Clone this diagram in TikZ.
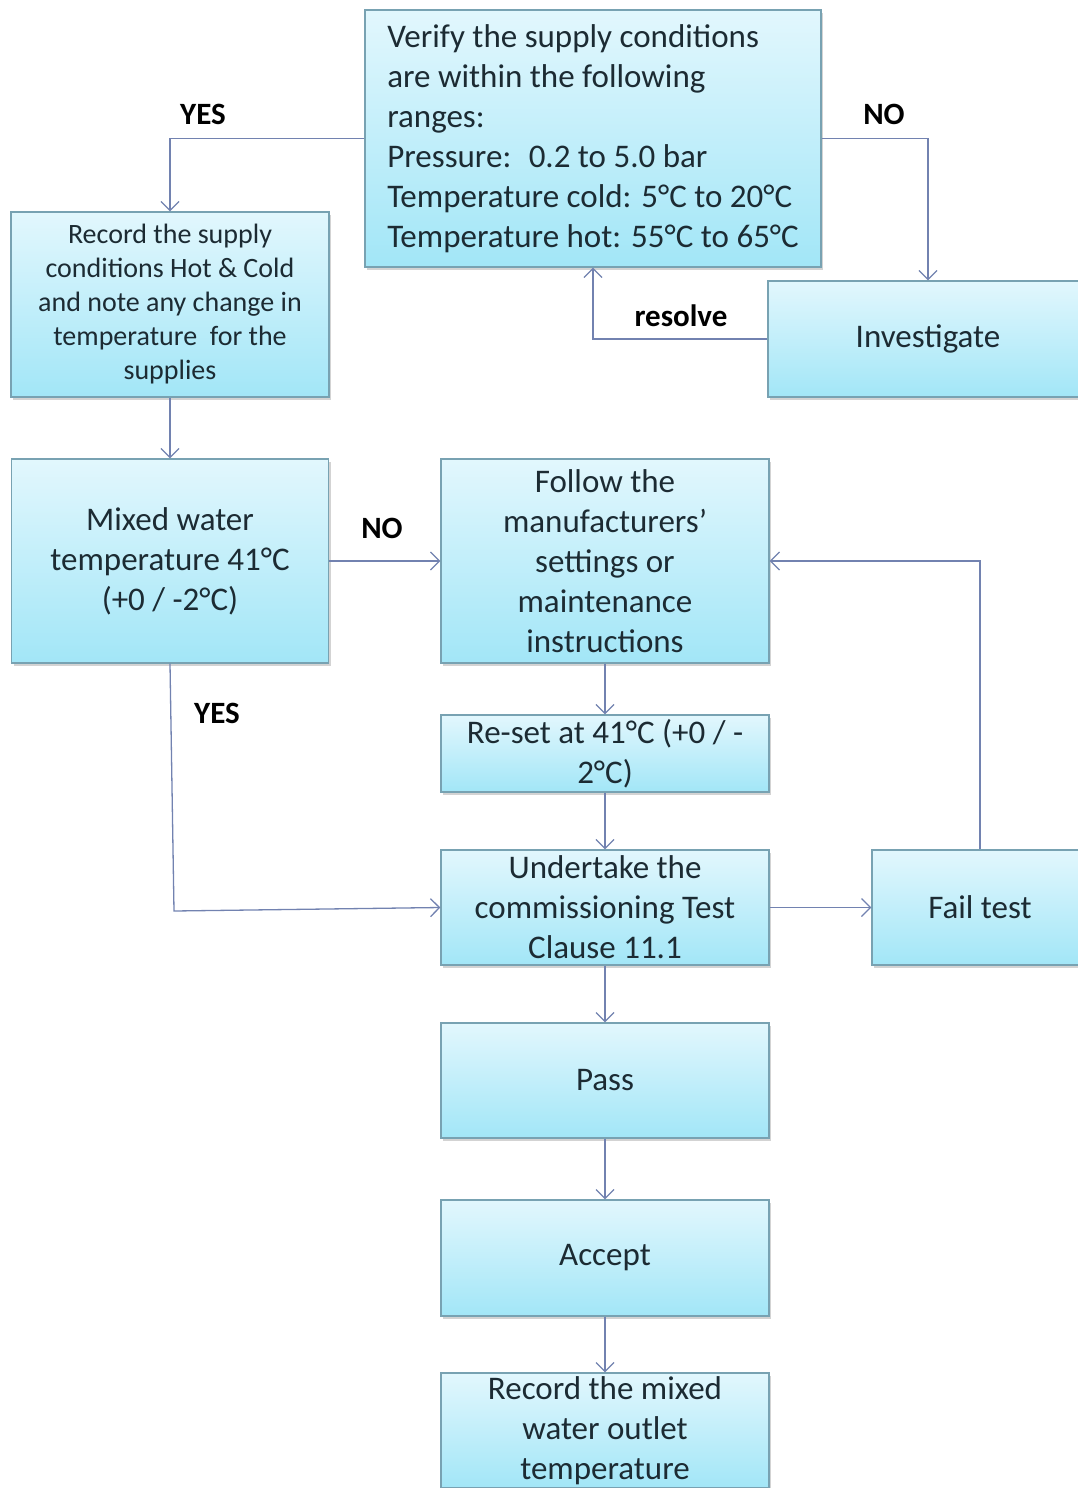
\documentclass[tikz,border=0pt]{standalone}
\usepackage{fontspec}
\setmainfont{Carlito}
\usepackage{tikz}
\usetikzlibrary{arrows.meta,shadows,positioning}

\definecolor{boxtop}{HTML}{E2F7FD}
\definecolor{boxbot}{HTML}{A2E6F7}
\definecolor{boxline}{HTML}{78A2B2}
\definecolor{flowline}{HTML}{7282B0}
\definecolor{boxtext}{HTML}{1C2B33}

\begin{document}
\begin{tikzpicture}[x=1pt,y=-1pt]
\tikzstyle{every node}+=[inner sep=0pt,text=boxtext]
\tikzstyle{box}=[draw=boxline,line width=1.2pt,top color=boxtop,bottom color=boxbot,
  drop shadow={shadow xshift=2pt,shadow yshift=-3pt,opacity=0.35},
  align=center,font=\fontsize{33}{40}\selectfont]
\tikzstyle{flow}=[draw=flowline,line width=1.3pt,-{Straight Barb[length=9pt,width=18pt]}]
\tikzstyle{answer}=[text=black,font=\fontsize{31}{36}\selectfont\bfseries]
\useasboundingbox (0,0) rectangle (1078,1488);
\clip (0,0) rectangle (1078,1488);
% boxes
\node [box,minimum width=456,minimum height=257,align=left] (verify) at (593,138.5)
  {Verify the supply conditions\\are within the following\\ranges:\\Pressure:~ 0.2 to 5.0 bar\\Temperature cold: 5°C to 20°C\\Temperature hot: 55°C to 65°C};
\node [box,minimum width=318,minimum height=185,font=\fontsize{28}{34}\selectfont] (recsupply) at (170,304.5)
  {Record the supply\\conditions Hot \& Cold\\and note any change in\\temperature~ for the\\supplies};
\node [box,minimum width=320,minimum height=116] (investigate) at (928,339) {Investigate};
\node [box,minimum width=317,minimum height=204] (mixed) at (170,561)
  {Mixed water\\temperature 41°C\\(+0 / -2°C)};
\node [box,minimum width=328,minimum height=204] (follow) at (605,561)
  {Follow the\\manufacturers’\\settings or\\maintenance\\instructions};
\node [box,minimum width=328,minimum height=77] (reset) at (605,753.5)
  {Re-set at 41°C (+0 / -\\2°C)};
\node [box,minimum width=328,minimum height=115] (undertake) at (605,907.5)
  {Undertake the\\commissioning Test\\Clause 11.1};
\node [box,minimum width=216,minimum height=115] (fail) at (980,907.5) {Fail test};
\node [box,minimum width=328,minimum height=115] (pass) at (605,1080.5) {Pass};
\node [box,minimum width=328,minimum height=116] (accept) at (605,1258) {Accept};
\node [box,minimum width=328,minimum height=115] (recmixed) at (605,1430.5)
  {Record the mixed\\water outlet\\temperature};
\coordinate (yesbend) at (174,911);
% connectors
\draw [flow] (verify.west) -| (recsupply.north);
\draw [flow] (verify.east) -| (investigate.north);
\draw [flow] (investigate.west) -| (verify.south);
\draw [flow] (recsupply.south) -- (mixed.north);
\draw [flow] (mixed.east) -- (follow.west);
\draw [flow] (mixed.south) -- (yesbend) -- (undertake.west);
\draw [flow] (follow.south) -- (reset.north);
\draw [flow] (reset.south) -- (undertake.north);
\draw [flow] (undertake.east) -- (fail.west);
\draw [flow] (fail.north) |- (follow.east);
\draw [flow] (undertake.south) -- (pass.north);
\draw [flow] (pass.south) -- (accept.north);
\draw [flow] (accept.south) -- (recmixed.north);
% labels
\node [answer] (yes1) at (203,114) {YES};
\node [answer] (no1) at (884,114) {NO};
\node [answer] (resolve) at (681,316) {resolve};
\node [answer] (no2) at (382,528) {NO};
\node [answer] (yes2) at (217,713) {YES};
\end{tikzpicture}
\end{document}
